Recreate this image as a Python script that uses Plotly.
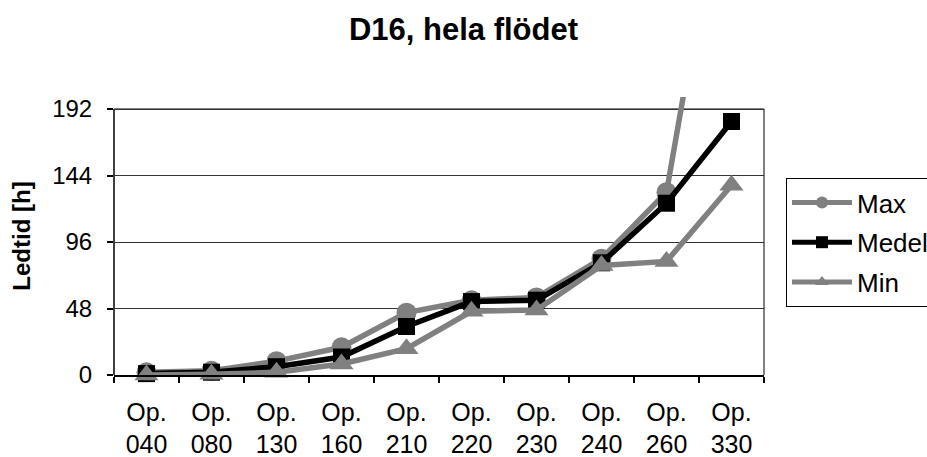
import plotly.graph_objects as go

categories = ["040", "080", "130", "160", "210", "220", "230", "240", "260", "330"]
tick_labels = ["Op.<br>" + c for c in categories]
max_vals = [2, 3, 10, 20, 45, 54, 56, 84, 132, 400]
medel_vals = [1, 2, 6, 13, 35, 53, 54, 81, 124, 183]
min_vals = [0, 0.5, 2, 8, 19, 46, 47, 79, 82, 137]
y_ticks = [0, 48, 96, 144, 192]

FONT = "Liberation Sans, Arial, sans-serif"
GRAY = "#808080"

fig = go.Figure()
fig.add_trace(go.Scatter(
    x=tick_labels, y=max_vals, name="Max", mode="lines+markers",
    line=dict(color=GRAY, width=5.5),
    marker=dict(symbol="circle", size=20, color=GRAY),
    cliponaxis=False, legendgroup="a"))
fig.add_trace(go.Scatter(
    x=tick_labels, y=medel_vals, name="Medel", mode="lines+markers",
    line=dict(color="black", width=5.5),
    marker=dict(symbol="square", size=17, color="black"),
    cliponaxis=False, legendgroup="b"))
fig.add_trace(go.Scatter(
    x=tick_labels, y=min_vals, name="Min", mode="lines+markers",
    line=dict(color=GRAY, width=5.5),
    marker=dict(symbol="triangle-up", size=21, color=GRAY),
    cliponaxis=False, legendgroup="c"))

# plot frame: black left axis up to 192, grey top/right border
fig.add_shape(type="line", xref="paper", yref="y", x0=0, x1=0, y0=0, y1=y_ticks[-1],
              line=dict(color="black", width=1.5), layer="between")
fig.add_shape(type="line", xref="paper", yref="y", x0=0, x1=1, y0=y_ticks[-1], y1=y_ticks[-1],
              line=dict(color=GRAY, width=2), layer="between")
fig.add_shape(type="line", xref="paper", yref="y", x0=1, x1=1, y0=0, y1=y_ticks[-1],
              line=dict(color=GRAY, width=2), layer="between")

fig.update_layout(
    width=927, height=457,
    margin=dict(l=114, r=163, t=97, b=82, autoexpand=False),
    paper_bgcolor="white", plot_bgcolor="white",
    font=dict(family=FONT, size=24, color="black"),
    title=dict(text="<b>D16, hela flödet</b>", x=0.5, xref="container", xanchor="center",
               y=1 - 29 / 457, yref="container", yanchor="middle",
               font=dict(family=FONT, size=31, color="black")),
    showlegend=True,
    legend=dict(x=(786 - 114) / 650, xanchor="left", y=(375 - 178) / 278, yanchor="top",
                bordercolor="black", borderwidth=1, bgcolor="white",
                font=dict(family=FONT, size=26, color="black"),
                itemwidth=60, itemsizing="constant",
                tracegroupgap=3, traceorder="grouped"),
    xaxis=dict(type="category", range=[-0.5, len(categories) - 0.5],
               showline=True, linecolor="black", linewidth=1.5,
               ticks="outside", tickson="boundaries", ticklen=6, tickcolor="black",
               tickwidth=1.5, showgrid=False, zeroline=False, ticklabelstandoff=14,
               tickfont=dict(family=FONT, size=25, color="black")),
    yaxis=dict(range=[0, 200.7], tickvals=y_ticks, ticktext=[str(v) for v in y_ticks],
               showline=False, ticks="outside", ticklen=6, tickcolor="black", tickwidth=1.5,
               showgrid=True, gridcolor="#333333", gridwidth=1, zeroline=False,
               ticklabelstandoff=10,
               tickfont=dict(family=FONT, size=24, color="black"),
               title=dict(text="<b>Ledtid [h]</b>", font=dict(family=FONT, size=24, color="black"),
                          standoff=14)),
)

fig.write_html("out.html")
